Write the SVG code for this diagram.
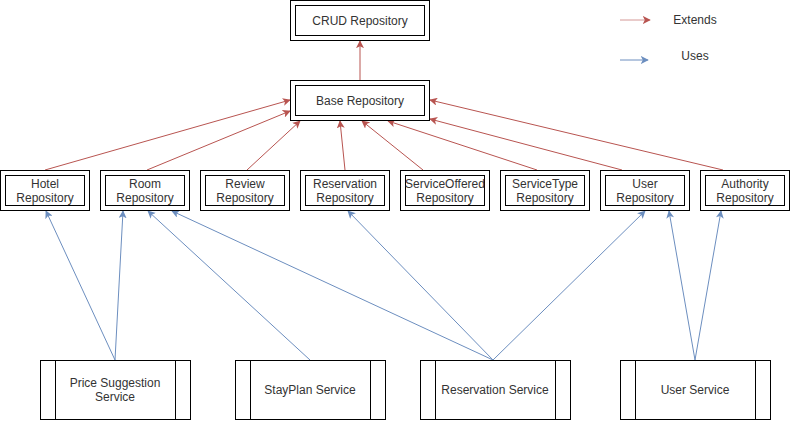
<svg xmlns="http://www.w3.org/2000/svg" width="791" height="421" viewBox="0 0 791 421">
<defs>
<marker id="ar" viewBox="0 0 10 10" refX="9" refY="5" markerWidth="8" markerHeight="8" orient="auto" markerUnits="userSpaceOnUse"><path d="M0,0 L10,5 L0,10 L2.5,5 Z" fill="#b85450"/></marker>
<marker id="ab" viewBox="0 0 10 10" refX="9" refY="5" markerWidth="8" markerHeight="8" orient="auto" markerUnits="userSpaceOnUse"><path d="M0,0 L10,5 L0,10 L2.5,5 Z" fill="#6c8ebf"/></marker>
<style>
.box{fill:#fff;stroke:#000;stroke-width:1}
.t{font-family:"Liberation Sans",Arial,sans-serif;font-size:12px;fill:#333;text-anchor:middle}
.r{stroke:#b85450;stroke-width:1;fill:none;marker-end:url(#ar)}
.b{stroke:#6c8ebf;stroke-width:1;fill:none;marker-end:url(#ab)}
</style>
</defs>
<rect width="791" height="421" fill="#fff"/>
<g id="connectors">
<line class="r" x1="360" y1="81" x2="360" y2="41"/>
<line class="r" x1="45" y1="170" x2="290" y2="100"/>
<line class="r" x1="147" y1="170" x2="290" y2="111"/>
<line class="r" x1="247" y1="170" x2="300" y2="121"/>
<line class="r" x1="345" y1="170" x2="340" y2="121"/>
<line class="r" x1="423" y1="170" x2="362" y2="121"/>
<line class="r" x1="537" y1="170" x2="388" y2="121"/>
<line class="r" x1="622" y1="170" x2="430" y2="119"/>
<line class="r" x1="723" y1="170" x2="430" y2="100"/>
<line class="b" x1="115" y1="360" x2="46" y2="211"/>
<line class="b" x1="115" y1="360" x2="123" y2="211"/>
<line class="b" x1="310" y1="360" x2="148" y2="211"/>
<line class="b" x1="493" y1="360" x2="172" y2="211"/>
<line class="b" x1="493" y1="360" x2="348" y2="211"/>
<line class="b" x1="493" y1="360" x2="645" y2="211"/>
<line class="b" x1="695" y1="360" x2="669" y2="211"/>
<line class="b" x1="695" y1="360" x2="721" y2="211"/>
</g>
<g id="legend">
<line x1="620" y1="20" x2="650" y2="20" stroke="#b85450" stroke-opacity="0.6" marker-end="url(#ar)"/>
<text class="t" x="695" y="24">Extends</text>
<line class="b" x1="620" y1="60" x2="648" y2="60"/>
<text class="t" x="695" y="60">Uses</text>
</g>
<g id="crud"><rect class="box" x="290.5" y="0.5" width="139" height="40"/><rect class="box" x="295.5" y="5.5" width="129" height="30"/><text class="t" x="360" y="25">CRUD Repository</text></g>
<g id="base"><rect class="box" x="290.5" y="80.5" width="139" height="40"/><rect class="box" x="295.5" y="85.5" width="129" height="30"/><text class="t" x="360" y="105">Base Repository</text></g>
<g id="hotel"><rect class="box" x="0.5" y="170.5" width="89" height="40"/><rect class="box" x="5.5" y="175.5" width="79" height="30"/><text class="t" x="45" y="188">Hotel</text><text class="t" x="45" y="202">Repository</text></g>
<g id="room"><rect class="box" x="100.5" y="170.5" width="89" height="40"/><rect class="box" x="105.5" y="175.5" width="79" height="30"/><text class="t" x="145" y="188">Room</text><text class="t" x="145" y="202">Repository</text></g>
<g id="review"><rect class="box" x="200.5" y="170.5" width="89" height="40"/><rect class="box" x="205.5" y="175.5" width="79" height="30"/><text class="t" x="245" y="188">Review</text><text class="t" x="245" y="202">Repository</text></g>
<g id="reservationRepo"><rect class="box" x="300.5" y="170.5" width="89" height="40"/><rect class="box" x="305.5" y="175.5" width="79" height="30"/><text class="t" x="345" y="188">Reservation</text><text class="t" x="345" y="202">Repository</text></g>
<g id="serviceOffered"><rect class="box" x="400.5" y="170.5" width="89" height="40"/><rect class="box" x="405.5" y="175.5" width="79" height="30"/><text class="t" x="445" y="188">ServiceOffered</text><text class="t" x="445" y="202">Repository</text></g>
<g id="serviceType"><rect class="box" x="500.5" y="170.5" width="89" height="40"/><rect class="box" x="505.5" y="175.5" width="79" height="30"/><text class="t" x="545" y="188">ServiceType</text><text class="t" x="545" y="202">Repository</text></g>
<g id="userRepo"><rect class="box" x="600.5" y="170.5" width="89" height="40"/><rect class="box" x="605.5" y="175.5" width="79" height="30"/><text class="t" x="645" y="188">User</text><text class="t" x="645" y="202">Repository</text></g>
<g id="authority"><rect class="box" x="700.5" y="170.5" width="89" height="40"/><rect class="box" x="705.5" y="175.5" width="79" height="30"/><text class="t" x="745" y="188">Authority</text><text class="t" x="745" y="202">Repository</text></g>
<g id="priceSuggestion"><rect class="box" x="40.5" y="360.5" width="150" height="59"/><line x1="55.5" y1="360.5" x2="55.5" y2="419.5" stroke="#000"/><line x1="175.5" y1="360.5" x2="175.5" y2="419.5" stroke="#000"/><text class="t" x="115" y="387">Price Suggestion</text><text class="t" x="115" y="401">Service</text></g>
<g id="stayPlan"><rect class="box" x="235.5" y="360.5" width="150" height="59"/><line x1="250.5" y1="360.5" x2="250.5" y2="419.5" stroke="#000"/><line x1="370.5" y1="360.5" x2="370.5" y2="419.5" stroke="#000"/><text class="t" x="310" y="394">StayPlan Service</text></g>
<g id="reservationService"><rect class="box" x="420.5" y="360.5" width="150" height="59"/><line x1="435.5" y1="360.5" x2="435.5" y2="419.5" stroke="#000"/><line x1="555.5" y1="360.5" x2="555.5" y2="419.5" stroke="#000"/><text class="t" x="495" y="394">Reservation Service</text></g>
<g id="userService"><rect class="box" x="620.5" y="360.5" width="150" height="59"/><line x1="635.5" y1="360.5" x2="635.5" y2="419.5" stroke="#000"/><line x1="755.5" y1="360.5" x2="755.5" y2="419.5" stroke="#000"/><text class="t" x="695" y="394">User Service</text></g>
</svg>
